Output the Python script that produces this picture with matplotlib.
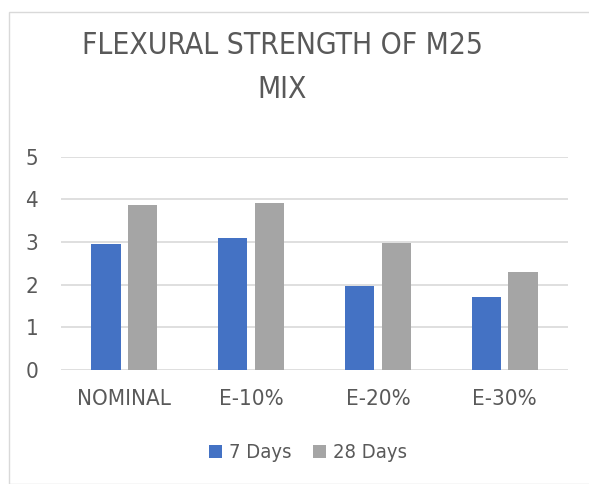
import matplotlib
matplotlib.use("Agg")
import matplotlib.pyplot as plt
import numpy as np
from matplotlib.patches import Rectangle
from matplotlib import font_manager

categories = ["NOMINAL", "E-10%", "E-20%", "E-30%"]
days7 = [2.95, 3.09, 1.97, 1.70]
days28 = [3.87, 3.91, 2.98, 2.30]
series_names = ["7 Days", "28 Days"]
yticks = [0, 1, 2, 3, 4, 5]

# look for a narrow font if installed
narrow = None
for f in font_manager.fontManager.ttflist:
    nm = f.name.lower()
    if ('narrow' in nm or 'condensed' in nm or f.stretch in ('condensed', 'semi-condensed')) \
            and f.weight in (400, 'normal', 'regular') and f.style == 'normal':
        narrow = f
        break

if narrow is not None:
    fp_kw = dict(fname=narrow.fname)
    title_size = 21.5
    tick_size = 16
    leg_size = 14.5
else:
    fp_kw = dict(family='Liberation Sans')
    title_size = 19.5
    tick_size = 13.5
    leg_size = 13

def fp(size):
    return font_manager.FontProperties(size=size, **fp_kw)

W, H = 589, 484
fig = plt.figure(figsize=(W/100, H/100), dpi=100)
fig.patch.set_facecolor('white')
fig.add_artist(Rectangle((9/W, 0), 1.2, 1 - 12/H, transform=fig.transFigure,
                         fill=False, edgecolor='#D9D9D9', linewidth=1))

ax = fig.add_axes([61/W, 1 - 370/H, (568-61)/W, (370-156.7)/H])
x = np.arange(len(categories))
w = 0.23
off = w/2 + 0.03
ax.bar(x - off, days7, w, color='#4472C4', label=series_names[0], zorder=3)
ax.bar(x + off, days28, w, color='#A5A5A5', label=series_names[1], zorder=3)

ax.set_xlim(-0.5, len(categories) - 0.5)
ax.set_ylim(0, 5)
ax.set_yticks(yticks)
ax.set_xticks(x)
ax.set_xticklabels(categories)
ax.grid(axis='y', color='#D9D9D9', linewidth=1.2, zorder=0)
ax.set_axisbelow(True)
for s in ax.spines.values():
    s.set_visible(False)
ax.tick_params(length=0, colors='#595959')
ax.tick_params(axis='x', pad=14)
ax.tick_params(axis='y', pad=16.5)
for lab in ax.get_xticklabels() + ax.get_yticklabels():
    lab.set_fontproperties(fp(tick_size))

fig.text(282/W, 1 - 46/H, "FLEXURAL STRENGTH OF M25", ha='center', va='center',
         fontproperties=fp(title_size), color='#595959')
fig.text(282/W, 1 - 89/H, "MIX", ha='center', va='center',
         fontproperties=fp(title_size), color='#595959')

fig.legend(loc='center', bbox_to_anchor=(308/W, 1 - 453/H), ncol=2, frameon=False,
           prop=fp(leg_size), labelcolor='#595959', handlelength=0.63, handleheight=0.63,
           handletextpad=0.35, columnspacing=1.05)

fig.savefig("out.png", dpi=100)
